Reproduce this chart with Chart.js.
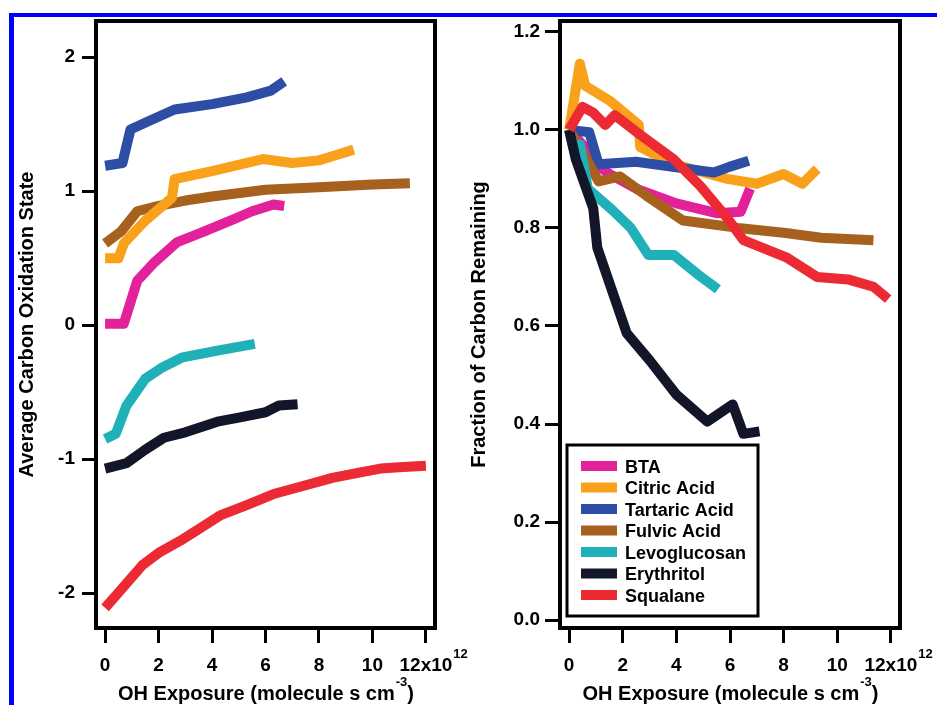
<!DOCTYPE html>
<html>
<head>
<meta charset="utf-8">
<script src="https://cdn.jsdelivr.net/npm/chart.js@4.4.0/dist/chart.umd.min.js"></script>
<style>
  html, body { margin: 0; padding: 0; background: #fff; }
  body { width: 937px; height: 705px; position: relative; overflow: hidden; }
  #frame { position: absolute; left: 9px; top: 13px; width: 960px; height: 720px;
           border-top: 4px solid #0000ff; border-left: 5px solid #0000ff; }
  canvas { position: absolute; top: 0; }
  #left { left: 0; }
  #right { left: 450px; }
</style>
</head>
<body>
<div id="frame"></div>
<canvas id="left" width="480" height="705"></canvas>
<canvas id="right" width="487" height="705"></canvas>
<script>
var FONT = "'Liberation Sans', Arial, Helvetica, sans-serif";

var names = ["BTA", "Citric Acid", "Tartaric Acid", "Fulvic Acid", "Levoglucosan", "Erythritol", "Squalane"];
var colors = ["#e2219b", "#f9a11b", "#2e4ea6", "#a6611f", "#20b1b8", "#131628", "#ec2a33"];

var xTicks = [0, 2, 4, 6, 8, 10, 12];
var osTicks = [-2, -1, 0, 1, 2];
var fracTicks = [0, 0.2, 0.4, 0.6, 0.8, 1.0, 1.2];

// left panel: average carbon oxidation state vs OH exposure (x in 1e12)
var btaOsX = [0, 0.7, 1.2, 1.8, 2.7, 3.6, 4.8, 5.5, 6.3, 6.7];
var btaOs  = [0.01, 0.01, 0.33, 0.46, 0.62, 0.69, 0.79, 0.85, 0.90, 0.89];
var citOsX = [0, 0.5, 0.7, 1.5, 2.5, 2.6, 4.0, 5.9, 7.0, 8.0, 8.5, 9.3];
var citOs  = [0.50, 0.50, 0.61, 0.78, 0.95, 1.09, 1.15, 1.24, 1.21, 1.23, 1.26, 1.31];
var tarOsX = [0, 0.65, 0.95, 1.6, 2.6, 4.0, 5.3, 6.2, 6.7];
var tarOs  = [1.19, 1.21, 1.46, 1.52, 1.61, 1.65, 1.70, 1.75, 1.82];
var fulOsX = [0, 0.6, 1.2, 2.0, 3.0, 4.0, 6.0, 8.0, 10.0, 11.4];
var fulOs  = [0.61, 0.70, 0.85, 0.89, 0.93, 0.96, 1.01, 1.03, 1.05, 1.06];
var levOsX = [0, 0.4, 0.8, 1.5, 2.1, 2.9, 4.2, 5.6];
var levOs  = [-0.85, -0.81, -0.60, -0.40, -0.32, -0.24, -0.19, -0.14];
var eryOsX = [0, 0.8, 1.5, 2.2, 3.0, 4.2, 5.0, 6.0, 6.5, 7.2];
var eryOs  = [-1.07, -1.03, -0.93, -0.84, -0.80, -0.72, -0.69, -0.65, -0.60, -0.59];
var squOsX = [0, 0.7, 1.4, 2.0, 2.8, 3.6, 4.3, 5.2, 6.3, 7.4, 8.5, 9.5, 10.3, 11.0, 12.0];
var squOs  = [-2.11, -1.95, -1.79, -1.70, -1.61, -1.51, -1.42, -1.35, -1.26, -1.20, -1.14, -1.10, -1.07, -1.06, -1.05];

// right panel: fraction of carbon remaining vs OH exposure
var btaFrX = [0, 0.5, 1.0, 1.5, 2.5, 4.0, 5.5, 6.4, 6.75];
var btaFr  = [1.0, 0.97, 0.93, 0.91, 0.88, 0.85, 0.83, 0.833, 0.88];
var citFrX = [0, 0.4, 0.6, 1.5, 2.6, 2.65, 3.9, 5.9, 7.0, 8.0, 8.7, 9.25];
var citFr  = [1.0, 1.135, 1.09, 1.06, 1.01, 0.965, 0.93, 0.90, 0.89, 0.91, 0.89, 0.92];
var tarFrX = [0, 0.75, 1.1, 2.5, 3.8, 5.4, 6.0, 6.7];
var tarFr  = [1.0, 0.995, 0.93, 0.935, 0.925, 0.913, 0.925, 0.937];
var fulFrX = [0, 0.5, 1.1, 1.9, 2.9, 4.25, 6.3, 8.0, 9.4, 11.35];
var fulFr  = [1.0, 0.955, 0.895, 0.905, 0.865, 0.815, 0.80, 0.79, 0.78, 0.775];
var levFrX = [0, 0.15, 0.4, 0.7, 1.6, 2.3, 2.95, 3.9, 4.8, 5.55];
var levFr  = [1.0, 0.965, 0.97, 0.88, 0.837, 0.80, 0.745, 0.745, 0.705, 0.675];
var eryFrX = [0, 0.25, 0.9, 1.05, 2.15, 3.0, 4.0, 5.15, 6.1, 6.5, 7.1];
var eryFr  = [1.0, 0.94, 0.84, 0.76, 0.585, 0.53, 0.46, 0.405, 0.44, 0.38, 0.385];
var squFrX = [0, 0.5, 0.9, 1.35, 1.7, 2.65, 3.9, 4.9, 5.9, 6.5, 8.1, 9.25, 10.4, 11.35, 11.9];
var squFr  = [1.0, 1.047, 1.035, 1.01, 1.03, 0.99, 0.94, 0.885, 0.82, 0.775, 0.74, 0.70, 0.695, 0.68, 0.655];

function pts(xs, ys) {
  return xs.map(function (x, i) { return {x: x, y: ys[i]}; });
}

function makeSets(series, orders) {
  return series.map(function (s, i) {
    return {
      label: names[i],
      data: pts(s[0], s[1]),
      borderColor: colors[i],
      backgroundColor: colors[i],
      borderWidth: 10,
      borderJoinStyle: 'round',
      pointRadius: 0,
      tension: 0,
      fill: false,
      order: orders[i]
    };
  });
}

// draws the frame, x title with superscripts, y title and the legend
var decor = {
  id: 'decor',
  afterDraw: function (chart, args, opts) {
    var ctx = chart.ctx, ca = chart.chartArea, xs = chart.scales.x;
    ctx.save();
    ctx.strokeStyle = '#000';
    ctx.lineWidth = 4;
    ctx.strokeRect(ca.left, ca.top, ca.right - ca.left, ca.bottom - ca.top);

    ctx.fillStyle = '#000';
    ctx.textBaseline = 'alphabetic';
    ctx.textAlign = 'left';
    ctx.font = 'bold 19px ' + FONT;
    var p = xs.getPixelForValue(12);
    var w = ctx.measureText('12x10').width;
    ctx.font = 'bold 13px ' + FONT;
    ctx.fillText('12', p + w / 2 + 1, 658);

    var main = 'OH Exposure (molecule s cm';
    ctx.font = 'bold 20px ' + FONT;
    var w1 = ctx.measureText(main).width, w3 = ctx.measureText(')').width;
    ctx.font = 'bold 13px ' + FONT;
    var w2 = ctx.measureText('-3').width;
    var x0 = (ca.left + ca.right) / 2 - (w1 + w2 + w3) / 2;
    ctx.font = 'bold 20px ' + FONT;
    ctx.fillText(main, x0, 700);
    ctx.fillText(')', x0 + w1 + w2 + 1, 700);
    ctx.font = 'bold 13px ' + FONT;
    ctx.fillText('-3', x0 + w1 + 1, 686);

    ctx.save();
    ctx.translate(opts.titleX, (ca.top + ca.bottom) / 2);
    ctx.rotate(-Math.PI / 2);
    ctx.textAlign = 'center';
    ctx.font = 'bold 20px ' + FONT;
    ctx.fillText(opts.yTitle, 0, 0);
    ctx.restore();

    if (opts.legend) {
      var lx = ca.left + 7, ly = 445, lw = 191, lh = 171;
      ctx.fillStyle = '#fff';
      ctx.fillRect(lx, ly, lw, lh);
      ctx.lineWidth = 3;
      ctx.strokeRect(lx, ly, lw, lh);
      ctx.font = 'bold 18px ' + FONT;
      chart.data.datasets.forEach(function (ds, i) {
        var cy = 466 + i * 21.5;
        ctx.fillStyle = ds.borderColor;
        ctx.fillRect(ca.left + 21, cy - 5, 36, 10);
        ctx.fillStyle = '#000';
        ctx.fillText(ds.label, ca.left + 65, cy + 6.5);
      });
    }
    ctx.restore();
  }
};

function makeOptions(yMin, yMax, yTicks, fmt, yWidth, padRight, tickLen, labPad, title, titleX, legend) {
  return {
    responsive: false,
    animation: false,
    layout: {padding: {top: 21, right: padRight, bottom: 0, left: 0}, autoPadding: false},
    plugins: {
      legend: {display: false},
      tooltip: {enabled: false},
      decor: {yTitle: title, titleX: titleX, legend: legend}
    },
    scales: {
      x: {
        type: 'linear',
        min: -0.34,
        max: 12.34,
        afterBuildTicks: function (s) { s.ticks = xTicks.map(function (v) { return {value: v}; }); },
        afterFit: function (s) { s.height = 77; },
        border: {display: false},
        grid: {drawOnChartArea: false, drawTicks: true, tickLength: 15, lineWidth: 3, color: '#000'},
        ticks: {
          color: '#000', padding: 11, maxRotation: 0, autoSkip: false,
          font: {family: FONT, size: 19, weight: 'bold'},
          callback: function (v) { return v === 12 ? '12x10' : String(v); }
        }
      },
      y: {
        type: 'linear',
        min: yMin,
        max: yMax,
        afterBuildTicks: function (s) { s.ticks = yTicks.map(function (v) { return {value: v}; }); },
        afterFit: function (s) { s.width = yWidth; },
        border: {display: false},
        grid: {drawOnChartArea: false, drawTicks: true, tickLength: tickLen, lineWidth: 3, color: '#000'},
        ticks: {
          color: '#000', padding: labPad, autoSkip: false,
          font: {family: FONT, size: 19, weight: 'bold'},
          callback: fmt
        }
      }
    }
  };
}

var leftSeries = [[btaOsX, btaOs], [citOsX, citOs], [tarOsX, tarOs], [fulOsX, fulOs],
                  [levOsX, levOs], [eryOsX, eryOs], [squOsX, squOs]];
var rightSeries = [[btaFrX, btaFr], [citFrX, citFr], [tarFrX, tarFr], [fulFrX, fulFr],
                   [levFrX, levFr], [eryFrX, eryFr], [squFrX, squFr]];

new Chart(document.getElementById('left'), {
  type: 'line',
  data: {datasets: makeSets(leftSeries, [6, 3, 4, 5, 2, 1, 0])},
  options: makeOptions(-2.26, 2.27, osTicks, function (v) { return String(v); },
                       96, 45, 14, 7, 'Average Carbon Oxidation State', 33, false),
  plugins: [decor]
});

new Chart(document.getElementById('right'), {
  type: 'line',
  data: {datasets: makeSets(rightSeries, [5, 6, 4, 3, 2, 1, 0])},
  options: makeOptions(-0.016, 1.222, fracTicks, function (v) { return v.toFixed(1); },
                       110, 37, 15, 5, 'Fraction of Carbon Remaining', 35, true),
  plugins: [decor]
});
</script>
</body>
</html>
